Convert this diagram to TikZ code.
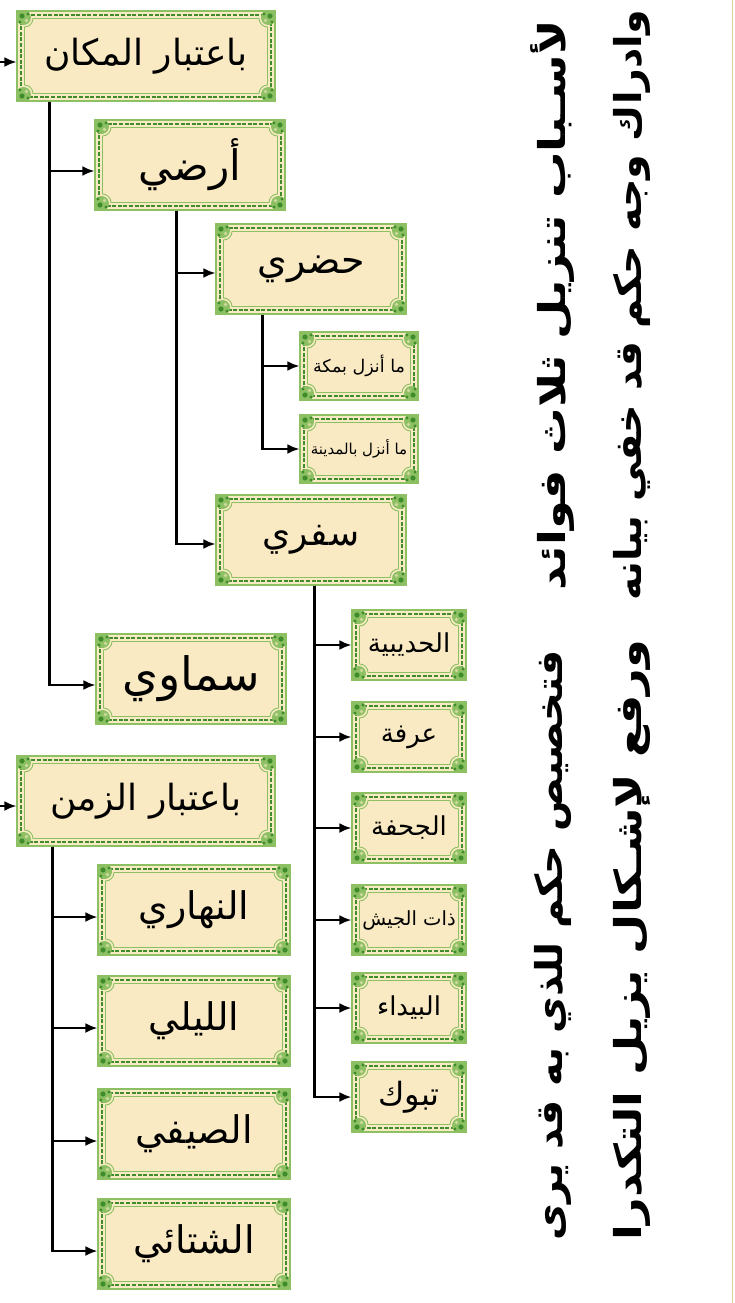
\documentclass[tikz,border=0pt]{standalone}
\usepackage{fontspec}
\usepackage{graphicx}
\usetikzlibrary{arrows.meta}
\TeXXeTstate=1
\newfontfamily\arfont[Script=Arabic]{DejaVu Sans}
\definecolor{beige}{HTML}{F9EAC3}
\definecolor{gLight}{HTML}{8CC063}
\definecolor{gDark}{HTML}{3F8C2C}
\definecolor{tanc}{HTML}{E2CD9C}
\newcommand\RL[1]{\beginR#1\endR}
\newcommand\fs[1]{\fontsize{#1}{#1}\selectfont}
\newcommand\frmdeco{%
  \coordinate (pNW) at (path picture bounding box.north west);
  \coordinate (pNE) at (path picture bounding box.north east);
  \coordinate (pSE) at (path picture bounding box.south east);
  \coordinate (pSW) at (path picture bounding box.south west);
  \draw[gDark, line width=1.8pt, dash pattern=on 4pt off 1.6pt]
    ([shift={(4pt,-4pt)}]pNW) rectangle ([shift={(-4pt,4pt)}]pSE);
  \draw[gLight, line width=0.9pt]
    ([shift={(16pt,-7.5pt)}]pNW) -- ([shift={(-16pt,-7.5pt)}]pNE)
    arc[start angle=180,end angle=270,radius=8.5pt]
    -- ([shift={(-7.5pt,16pt)}]pSE)
    arc[start angle=90,end angle=180,radius=8.5pt]
    -- ([shift={(16pt,7.5pt)}]pSW)
    arc[start angle=0,end angle=90,radius=8.5pt]
    -- ([shift={(7.5pt,-16pt)}]pNW)
    arc[start angle=270,end angle=360,radius=8.5pt] -- cycle;
  \foreach \c/\sx/\sy in {pNW/1/-1, pNE/-1/-1, pSE/-1/1, pSW/1/1}{
    \fill[gLight] ([shift={(\sx*6.5pt,\sy*6.5pt)}]\c) circle[radius=7.5pt];
    \fill[gLight] (\c) rectangle ([shift={(\sx*9pt,\sy*9pt)}]\c);
    \fill[gDark] ([shift={(\sx*5pt,\sy*5pt)}]\c) circle[radius=2.6pt];
    \fill[gDark] ([shift={(\sx*11pt,\sy*3pt)}]\c) circle[radius=1.7pt];
    \fill[gDark] ([shift={(\sx*3pt,\sy*11pt)}]\c) circle[radius=1.7pt];
    \fill[beige!60!gLight] ([shift={(\sx*9.5pt,\sy*9.5pt)}]\c) circle[radius=1.8pt];
  }%
}
\tikzset{
  frame/.style={draw=gLight, line width=1.2pt, fill=beige, inner sep=0pt,
    path picture={\frmdeco}},
  wide/.style={frame, minimum width=258pt, minimum height=90pt,
    font=\arfont\fs{36}},
  big/.style={frame, minimum width=190pt, minimum height=90pt,
    font=\arfont\fs{38}},
  small/.style={frame, minimum width=114pt, minimum height=70pt,
    font=\arfont\fs{26}},
  arr/.style={line width=2.2pt, -{Latex[length=12pt,width=10pt]}},
  side/.style={rotate=90, inner sep=0pt,
    font=\arfont\bfseries\fs{37}},
}
\begin{document}
\begin{tikzpicture}[x=1pt,y=-1pt]
\fill[white] (0,0) rectangle (734,1303);
\useasboundingbox (0,0) rectangle (734,1303);
\draw[tanc, line width=1.5pt] (732.5,0) -- (732.5,1303);

% nodes
\node[wide]  (n1)  at (146,56)  {\RL{باعتبار المكان}};
\node[big, font=\arfont\fs{42}] (n2)  at (190,165) {\RL{أرضي}};
\node[big]   (n3)  at (311,269) {\RL{حضري}};
\node[small, minimum width=118pt, minimum height=68pt, font=\arfont\fs{17.5}]
             (n4)  at (359,366) {\RL{ما أنزل بمكة}};
\node[small, minimum width=118pt, minimum height=68pt, font=\arfont\fs{15}]
             (n5)  at (359,449) {\RL{ما أنزل بالمدينة}};
\node[big, font=\arfont\fs{36}] (n6)  at (311,540) {\RL{سفري}};
\node[big, font=\arfont\fs{46}] (n7)  at (191,679) {\RL{سماوي}};
\node[wide]  (n8)  at (146,801) {\RL{باعتبار الزمن}};
\node[small] (n9)  at (409,645) {\RL{الحديبية}};
\node[small] (n10) at (409,737) {\RL{عرفة}};
\node[small] (n11) at (409,828) {\RL{الجحفة}};
\node[small, font=\arfont\fs{19.5}] (n12) at (409,920) {\RL{ذات الجيش}};
\node[small] (n13) at (409,1008) {\RL{البيداء}};
\node[small, font=\arfont\fs{32}] (n14) at (409,1097) {\RL{تبوك}};
\node[big, minimum width=192pt] (n15) at (194,910) {\RL{النهاري}};
\node[big, minimum width=192pt] (n16) at (194,1021) {\RL{الليلي}};
\node[big, minimum width=192pt] (n17) at (194,1134) {\RL{الصيفي}};
\node[big, minimum width=192pt] (n18) at (194,1244) {\RL{الشتائي}};

% side verses
\node[side] (s1) at (553,305) {\resizebox{570pt}{\height}{\RL{لأسـباب تنزيل ثلاث فوائد}}};
\node[side] (s2) at (553,945) {\resizebox{590pt}{\height}{\RL{فتخصيص حكم للذي به قد يرى}}};
\node[side] (s3) at (632,305) {\resizebox{590pt}{\height}{\RL{وادراك وجه حكم قد خفي بيانه}}};
\node[side] (s4) at (632,940) {\resizebox{600pt}{\height}{\RL{ورفع لإشـكال يزيل التكدرا}}};

% incoming arrows
\coordinate (in1) at (0,62);
\coordinate (in8) at (0,806);
\draw[arr] (in1) -- (in1 -| n1.west);
\draw[arr] (in8) -- (in8 -| n8.west);

% trunks
\draw[arr] ([xshift=33pt]n1.south west) |- ([yshift=-6pt]n2.west);
\draw[arr] ([xshift=33pt]n1.south west) |- ([yshift=-6pt]n7.west);
\draw[arr] ([xshift=82pt]n2.south west) |- ([yshift=-4pt]n3.west);
\draw[arr] ([xshift=82pt]n2.south west) |- ([yshift=-4pt]n6.west);
\draw[arr] ([xshift=47pt]n3.south west) |- (n4.west);
\draw[arr] ([xshift=47pt]n3.south west) |- (n5.west);
\foreach \k in {9,...,14}{
  \draw[arr] ([xshift=99pt]n6.south west) |- (n\k.west);
}
\foreach \k in {15,...,18}{
  \draw[arr] ([xshift=36pt]n8.south west) |- ([yshift=-7pt]n\k.west);
}
\end{tikzpicture}
\end{document}
